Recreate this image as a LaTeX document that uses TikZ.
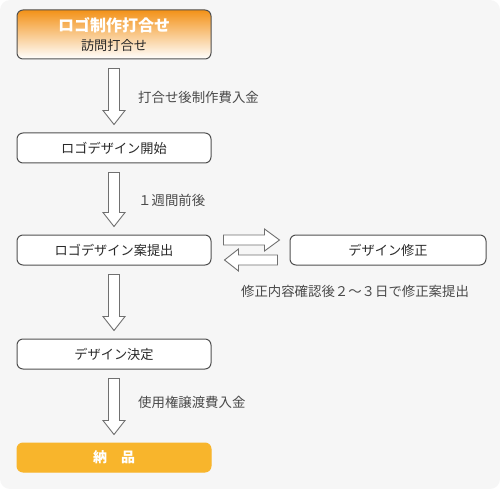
\documentclass[tikz,border=0pt]{standalone}
\usepackage{fontspec}
\setmainfont{Noto Sans CJK JP}
\usetikzlibrary{calc}
\definecolor{bgray}{HTML}{F6F6F6}
\definecolor{edge}{HTML}{505050}
\definecolor{arrline}{HTML}{707070}
\definecolor{orng}{HTML}{F39218}
\definecolor{gold}{HTML}{F8B52C}
\definecolor{txt}{HTML}{2A2A2A}

\tikzset{
	stepbox/.style={draw=edge,line width=1pt,rounded corners=6pt,fill=white,minimum width=194,minimum height=30,inner sep=0pt,text=txt,font=\fontsize{13.2}{15}\selectfont},
	note/.style={anchor=west,inner sep=0pt,text=txt!85,font=\fontsize{13.4}{15}\selectfont},
	hollow/.style={draw=arrline,line width=0.9pt,fill=white,line join=miter}
}
% block arrow down between two boxes
\newcommand{\fatdown}[2]{%
	\draw[hollow] ($(#1.south)+(-5.5,9)$) -- ($(#2.north)+(-5.5,-22)$) -- ++(-5.5,0) -- ($(#2.north)+(0,-8)$) -- ++(11,-14) -- ++(-5.5,0) -- ($(#1.south)+(5.5,9)$) -- cycle;}

\begin{document}
\begin{tikzpicture}[line cap=round,line join=round,x=1pt,y=-1pt]
		\useasboundingbox (0,0) rectangle (500,489);
		\fill[bgray,rounded corners=10pt] (0,0) rectangle (500,489);
		% boxes
		\node[stepbox,minimum height=49,top color=orng,bottom color=white,align=center] (b1) at (114,34.5) {{\fontsize{16}{18}\selectfont\bfseries\color{white}ロゴ制作打合せ}\\[4pt]訪問打合せ};
		\node[stepbox] (b2) at (114,148) {ロゴデザイン開始};
		\node[stepbox] (b3) at (114,250) {ロゴデザイン案提出};
		\node[stepbox,minimum width=196] (b4) at (388,250) {デザイン修正};
		\node[stepbox] (b5) at (114,354) {デザイン決定};
		\node[stepbox,draw=gold,fill=gold,minimum height=29,text=white,font=\fontsize{14}{16}\selectfont\bfseries] (b6) at (114,457.5) {納　品};
		% arrows
		\fatdown{b1}{b2}
		\fatdown{b2}{b3}
		\fatdown{b3}{b5}
		\fatdown{b5}{b6}
		\draw[hollow] ($(b3.east)+(12,-15)$) -- ($(b4.west)+(-25,-15)$) -- ++(0,-6) -- ($(b4.west)+(-10,-10)$) -- ++(-15,11) -- ++(0,-6) -- ($(b3.east)+(12,-5)$) -- cycle;
		\draw[hollow] ($(b3.east)+(13,10)$) -- ++(14,-11) -- ++(0,6) -- ($(b4.west)+(-12,5)$) -- ++(0,10) -- ($(b3.east)+(27,15)$) -- ++(0,6) -- cycle;
		% notes
		\node[note] (n1) at (138,97) {打合せ後制作費入金};
		\node[note] (n2) at (138,200) {１週間前後};
		\node[note,anchor=center] (n3) at (355,291) {修正内容確認後２～３日で修正案提出};
		\node[note] (n4) at (138,402) {使用権譲渡費入金};
	\end{tikzpicture}
\end{document}
